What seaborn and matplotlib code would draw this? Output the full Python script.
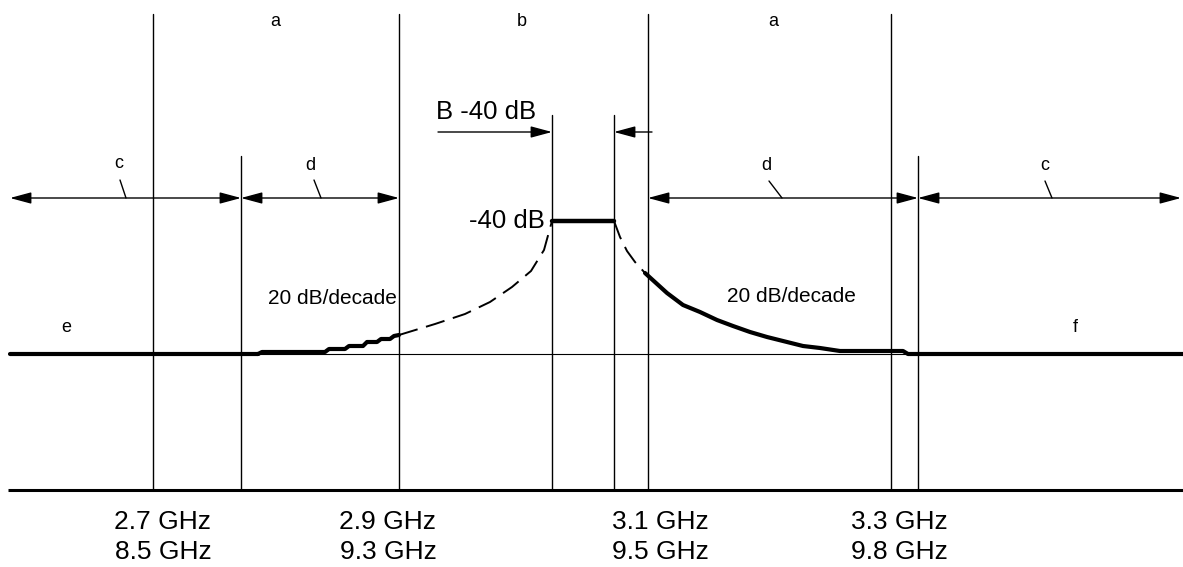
import matplotlib
matplotlib.use("Agg")
import matplotlib.pyplot as plt
import seaborn as sns
import pandas as pd

sns.set_style("white")
plt.rcParams['font.family'] = ['Liberation Sans', 'DejaVu Sans']
plt.rcParams['text.color'] = 'black'

# ---- data (diagram coordinates, y grows downward) ----
full_lines_x = [153, 399, 648, 891]
short_lines_x = [241, 918]
band_lines_x = [552, 614]

freq_top = ["2.7 GHz", "2.9 GHz", "3.1 GHz", "3.3 GHz"]
freq_bottom = ["8.5 GHz", "9.3 GHz", "9.5 GHz", "9.8 GHz"]
freq_label_x = [163, 388, 660, 899]

top_labels = ["a", "b", "a"]
top_label_x = [275, 522, 773]

# spurious mask curve pieces
left_flat_x = [10, 258]
left_flat_y = [354, 354]
left_step_x = [258, 262, 325, 329, 345, 349, 363, 367, 377, 381, 390, 394, 399]
left_step_y = [354, 352, 352, 349, 349, 346, 346, 342, 342, 339, 339, 336, 335]
left_dash_x = [399, 435, 465, 490, 512, 531, 544, 552]
left_dash_y = [335, 324, 314, 302, 287, 271, 250, 221]
plateau_x = [552, 614]
plateau_y = [221, 221]
right_dash_x = [614, 620, 627, 635, 645]
right_dash_y = [221, 237, 251, 262, 273]
right_curve_x = [645, 667, 683, 700, 717, 733, 750, 767, 783, 803, 820, 840, 903, 908, 1183]
right_curve_y = [273, 293, 305, 312, 320, 326, 332, 337, 341, 346, 348, 351, 351, 354, 354]

W, H = 1183, 567
fig = plt.figure(figsize=(W / 100, H / 100), dpi=100)
ax = fig.add_axes([0, 0, 1, 1])

K = 'black'

# base and reference lines
ax.plot([8, 1183], [490, 490], color=K, lw=2.2, solid_capstyle='butt')
ax.plot([10, 1183], [354, 354], color=K, lw=0.8)

for x in full_lines_x:
    ax.plot([x, x], [14, 490], color=K, lw=1.0)
for x in short_lines_x:
    ax.plot([x, x], [156, 490], color=K, lw=1.0)
for x in band_lines_x:
    ax.plot([x, x], [115, 490], color=K, lw=1.0)

def seg(xs, ys, **kw):
    df = pd.DataFrame({"x": xs, "y": ys})
    sns.lineplot(data=df, x="x", y="y", sort=False, estimator=None,
                 color=K, ax=ax, **kw)

seg(left_flat_x, left_flat_y, lw=3)
seg(left_step_x, left_step_y, lw=3)
seg(left_dash_x, left_dash_y, lw=1.4, linestyle=(0, (10, 4.5)))
seg(plateau_x, plateau_y, lw=3.2)
seg(right_dash_x, right_dash_y, lw=1.4, linestyle=(0, (10, 4.5)))
seg(right_curve_x, right_curve_y, lw=3)
ax.set_xlim(0, W)
ax.set_ylim(H, 0)
ax.axis('off')

# dimension arrows
def darrow(x0, x1, y):
    ax.annotate('', xy=(x1, y), xytext=(x0, y),
                arrowprops=dict(arrowstyle='<|-|>,head_length=1.3,head_width=0.35',
                                color=K, lw=1.0, shrinkA=0, shrinkB=0))

def sarrow(x0, x1, y):
    ax.annotate('', xy=(x1, y), xytext=(x0, y),
                arrowprops=dict(arrowstyle='-|>,head_length=1.3,head_width=0.35',
                                color=K, lw=1.0, shrinkA=0, shrinkB=0))

AY = 198
darrow(10, 241, AY)
darrow(241, 399, AY)
darrow(648, 918, AY)
darrow(918, 1181, AY)

sarrow(438, 552, 132)
sarrow(652, 614, 132)

# leader labels c / d
leaders = [("c", 119, 164, (120, 180), (126, 198)),
           ("d", 310, 165, (314, 180), (321, 198)),
           ("d", 766, 165, (769, 181), (782, 198)),
           ("c", 1045, 165, (1045, 181), (1052, 198))]
for t, tx, ty, p0, p1 in leaders:
    ax.text(tx, ty, t, fontsize=13, ha='center', va='center', color=K)
    ax.plot([p0[0], p1[0]], [p0[1], p1[1]], color=K, lw=1.0)

for t, x in zip(top_labels, top_label_x):
    ax.text(x, 21, t, fontsize=13, ha='center', va='center', color=K)

ax.text(66, 327, "e", fontsize=13, ha='center', va='center', color=K)
ax.text(1075, 327, "f", fontsize=13, ha='center', va='center', color=K)

ax.text(332, 298, "20 dB/decade", fontsize=15, ha='center', va='center', color=K)
ax.text(791, 296, "20 dB/decade", fontsize=15, ha='center', va='center', color=K)

ax.text(545, 221, "-40 dB", fontsize=18.5, ha='right', va='center', color=K)
ax.text(486, 112, "B -40 dB", fontsize=18.5, ha='center', va='center', color=K)

for t1, t2, x in zip(freq_top, freq_bottom, freq_label_x):
    ax.text(x, 522, t1, fontsize=19, ha='center', va='center', color=K)
    ax.text(x, 552, t2, fontsize=19, ha='center', va='center', color=K)

fig.savefig("out.png", dpi=100)
